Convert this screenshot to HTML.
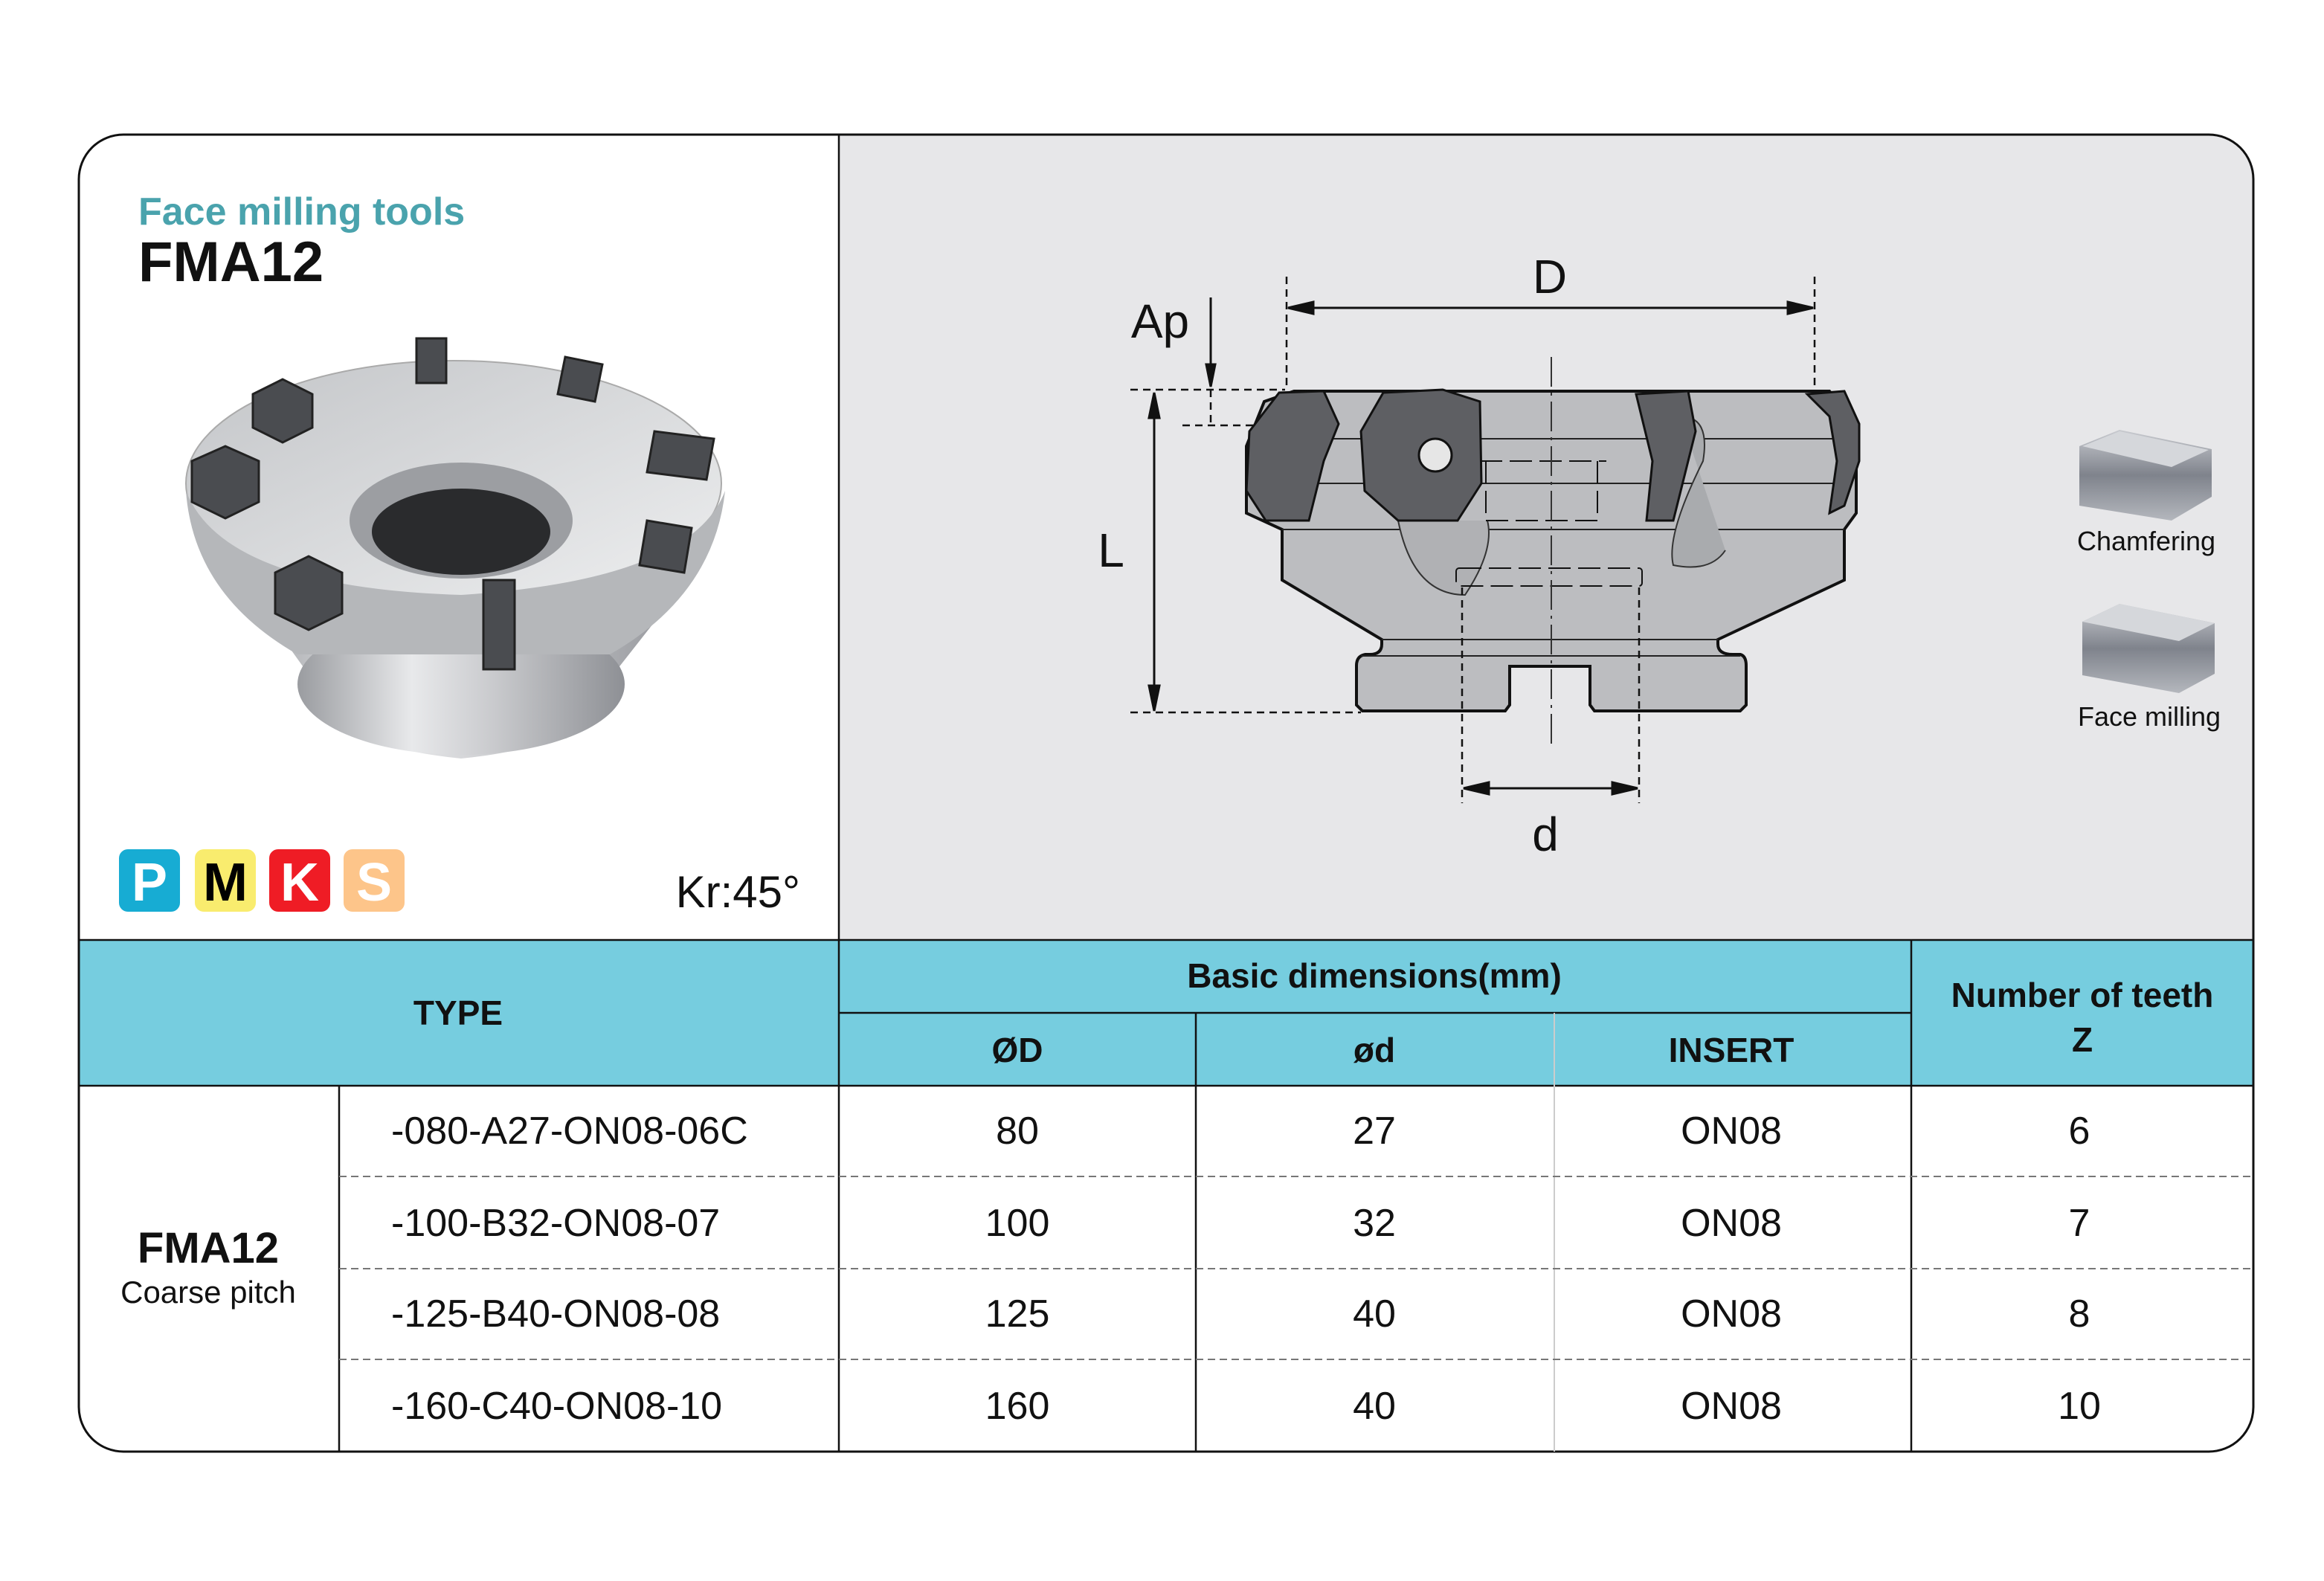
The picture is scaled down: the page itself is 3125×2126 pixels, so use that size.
<!DOCTYPE html>
<html><head><meta charset="utf-8"><style>
html,body{margin:0;padding:0;background:#fff}
svg{display:block}
text{font-family:"Liberation Sans",sans-serif}
</style></head><body>
<svg width="3125" height="2126" viewBox="0 0 3125 2126" xmlns="http://www.w3.org/2000/svg">
<defs>
<linearGradient id="bodyg" x1="0" x2="1" y1="0" y2="0">
<stop offset="0" stop-color="#9a9ca0"/><stop offset="0.35" stop-color="#e8e9eb"/><stop offset="0.6" stop-color="#c9cacd"/><stop offset="1" stop-color="#8e9095"/></linearGradient>
<linearGradient id="topg" x1="0" x2="1" y1="0" y2="1">
<stop offset="0" stop-color="#c3c5c8"/><stop offset="1" stop-color="#eeeff0"/></linearGradient>
<linearGradient id="blk" x1="0" x2="0" y1="0" y2="1">
<stop offset="0" stop-color="#c9cbd0"/><stop offset="0.5" stop-color="#7f838c"/><stop offset="1" stop-color="#b4b7bd"/></linearGradient>
</defs>
<path d="M1128 180 H2970 A60 60 0 0 1 3030 240 V1264 H1128 Z" fill="#e7e7e9"/>
<rect x="106" y="1264" width="2924" height="196" fill="#76cddf"/>
<rect x="106" y="181" width="2924" height="1771" rx="60" fill="none" stroke="#111" stroke-width="3"/>
<g stroke="#111" stroke-width="2.5">
<line x1="1128" y1="181" x2="1128" y2="1952"/>
<line x1="106" y1="1264" x2="3030" y2="1264"/>
<line x1="106" y1="1460" x2="3030" y2="1460"/>
<line x1="1128" y1="1362" x2="2570" y2="1362"/>
<line x1="2570" y1="1264" x2="2570" y2="1952"/>
<line x1="1608" y1="1362" x2="1608" y2="1952"/>
<line x1="456" y1="1460" x2="456" y2="1952"/>
</g>
<line x1="2090" y1="1362" x2="2090" y2="1952" stroke="#ccc" stroke-width="2"/>
<g stroke="#777" stroke-width="2" stroke-dasharray="10 6">
<line x1="456" y1="1582" x2="3030" y2="1582"/>
<line x1="456" y1="1706" x2="3030" y2="1706"/>
<line x1="456" y1="1828" x2="3030" y2="1828"/>
</g>
<text x="186" y="302" font-size="52" font-weight="bold" fill="#4aa3ad">Face milling tools</text>
<text x="186" y="378" font-size="76" font-weight="bold" fill="#111">FMA12</text>
<rect x="160" y="1142" width="82" height="84" rx="12" fill="#17acd3"/>
<rect x="262" y="1142" width="82" height="84" rx="12" fill="#f9ec6e"/>
<rect x="362" y="1142" width="82" height="84" rx="12" fill="#ef1c25"/>
<rect x="462" y="1142" width="82" height="84" rx="12" fill="#fdc58a"/>
<g font-size="72" font-weight="bold" text-anchor="middle">
<text x="201" y="1211" fill="#fff">P</text>
<text x="303" y="1211" fill="#000">M</text>
<text x="403" y="1211" fill="#fff">K</text>
<text x="503" y="1211" fill="#fff">S</text>
</g>
<text x="1076" y="1220" font-size="60" text-anchor="end" fill="#111">Kr:45°</text>
<g>
<path d="M310 760 L410 900 Q420 1000 620 1020 Q820 1000 830 900 L940 760 Z" fill="url(#bodyg)"/>
<ellipse cx="620" cy="920" rx="220" ry="95" fill="url(#bodyg)"/>
<ellipse cx="610" cy="650" rx="360" ry="165" fill="url(#topg)" stroke="#aaa" stroke-width="2"/>
<path d="M250 660 Q260 800 400 880 L820 880 Q960 800 975 660 Q930 780 620 800 Q300 790 250 660Z" fill="#b5b7ba"/>
<ellipse cx="620" cy="700" rx="150" ry="78" fill="#9c9ea2"/>
<ellipse cx="620" cy="715" rx="120" ry="58" fill="#2a2b2d"/>
<g fill="#4a4c50" stroke="#222" stroke-width="3">
<path d="M340 530 l40 -20 l40 20 l0 45 l-40 20 l-40 -20z"/>
<path d="M258 620 l45 -20 l45 20 l0 55 l-45 22 l-45 -22z"/>
<path d="M370 770 l45 -22 l45 22 l0 55 l-45 22 l-45 -22z"/>
<rect x="560" y="455" width="40" height="60"/>
<path d="M760 480 l50 10 l-10 50 l-50 -10z"/>
<path d="M880 580 l80 10 l-10 55 l-80 -10z"/>
<path d="M870 700 l60 10 l-10 60 l-60 -10z"/>
<rect x="650" y="780" width="42" height="120"/>
</g>
</g>
<!-- technical drawing -->
<g>
<path d="M1676 600 L1700 540 L1740 526 L2460 526 L2496 570 L2496 690 L2480 712 L2480 780 L2310 860 L2310 866 Q2310 880 2330 880 L2340 880 Q2348 882 2348 895 L2348 948 L2340 956 L2144 956 L2138 948 L2138 896 L2030 896 L2030 948 L2024 956 L1832 956 L1824 948 L1824 895 Q1824 882 1836 880 L1842 880 Q1858 880 1858 866 L1858 860 L1724 780 L1724 712 L1676 690 Z" fill="#bcbdc0" stroke="#111" stroke-width="4"/>
<line x1="1690" y1="590" x2="2490" y2="590" stroke="#222" stroke-width="2"/>
<line x1="1690" y1="650" x2="2490" y2="650" stroke="#222" stroke-width="2"/>
<line x1="1724" y1="712" x2="2480" y2="712" stroke="#222" stroke-width="2"/>
<line x1="1858" y1="860" x2="2310" y2="860" stroke="#222" stroke-width="2"/>
<line x1="1830" y1="882" x2="2340" y2="882" stroke="#222" stroke-width="2"/>
<path d="M2260 560 Q2300 560 2290 620 Q2240 720 2250 760 Q2300 770 2320 740" fill="#a9abae" stroke="#333" stroke-width="2"/>
<path d="M1880 700 Q1900 800 1970 800 Q2010 740 2000 700" fill="#b0b1b4" stroke="#333" stroke-width="2"/>
<g fill="#5e5f63" stroke="#111" stroke-width="3">
<path d="M1680 580 L1720 528 L1780 526 L1800 570 L1780 620 L1760 700 L1702 700 L1676 660 Z"/>
<path d="M1830 580 L1860 528 L1940 524 L1990 540 L1992 650 L1960 700 L1880 700 L1835 660 Z"/>
<path d="M2200 530 L2270 526 L2280 580 L2250 700 L2214 700 L2222 620 Z"/>
<path d="M2430 530 L2480 526 L2500 570 L2500 620 L2480 680 L2460 690 L2470 620 L2460 560 Z"/>
</g>
<circle cx="1930" cy="612" r="22" fill="#e6e6e6" stroke="#111" stroke-width="3"/>
<rect x="1958" y="764" width="250" height="24" rx="4" fill="none" stroke="#111" stroke-width="2" stroke-dasharray="30 10"/>
<path d="M1990 620 h170 M1998 620 v80 h150 v-80" fill="none" stroke="#111" stroke-width="2" stroke-dasharray="30 10"/>
</g>
<g stroke="#111" stroke-width="2.5" fill="none" stroke-dasharray="10 7">
<line x1="1730" y1="372" x2="1730" y2="524"/>
<line x1="2440" y1="372" x2="2440" y2="524"/>
<line x1="1520" y1="524" x2="1728" y2="524"/>
<line x1="1590" y1="572" x2="1690" y2="572"/>
<line x1="1520" y1="958" x2="1830" y2="958"/>
<line x1="1966" y1="790" x2="1966" y2="1080"/>
<line x1="2204" y1="790" x2="2204" y2="1080"/>
<line x1="1628" y1="524" x2="1628" y2="572"/>
</g>
<line x1="2086" y1="480" x2="2086" y2="1000" stroke="#333" stroke-width="2" stroke-dasharray="40 8 4 8"/>
<g stroke="#111" stroke-width="3" fill="#111">
<line x1="1745" y1="414" x2="2425" y2="414"/>
<path d="M1732 414 l34 -8 v16z"/><path d="M2438 414 l-34 -8 v16z"/>
<line x1="1628" y1="400" x2="1628" y2="505"/>
<path d="M1628 520 l-6 -30 h12z"/>
<line x1="1552" y1="545" x2="1552" y2="940"/>
<path d="M1552 528 l-7 34 h14z"/><path d="M1552 956 l-7 -34 h14z"/>
<line x1="1980" y1="1060" x2="2190" y2="1060"/>
<path d="M1968 1060 l34 -8 v16z"/><path d="M2202 1060 l-34 -8 v16z"/>
</g>
<g font-size="64" fill="#111" text-anchor="middle">
<text x="2084" y="394">D</text>
<text x="1560" y="454">Ap</text>
<text x="1494" y="762">L</text>
<text x="2078" y="1144">d</text>
</g>
<path d="M2796 600 L2850 578 L2974 604 L2974 668 L2920 700 L2796 680 Z" fill="url(#blk)"/>
<path d="M2800 600 L2850 580 L2970 605 L2920 628 Z" fill="#d5d7db"/>
<text x="2886" y="740" font-size="36" text-anchor="middle" fill="#111">Chamfering</text>
<path d="M2800 836 L2850 812 L2978 838 L2978 906 L2930 932 L2800 908 Z" fill="url(#blk)"/>
<path d="M2800 836 L2850 812 L2978 838 L2930 862 Z" fill="#d5d7db"/>
<text x="2890" y="976" font-size="36" text-anchor="middle" fill="#111">Face milling</text>
<g font-size="46" font-weight="bold" fill="#111" text-anchor="middle">
<text x="616" y="1378">TYPE</text>
<text x="1848" y="1328">Basic dimensions(mm)</text>
<text x="1368" y="1428">ØD</text>
<text x="1848" y="1428">ød</text>
<text x="2328" y="1428">INSERT</text>
<text x="2800" y="1354">Number of teeth</text>
<text x="2800" y="1414">Z</text>
</g>
<text x="280" y="1698" font-size="58" font-weight="bold" text-anchor="middle" fill="#111">FMA12</text>
<text x="280" y="1752" font-size="42" text-anchor="middle" fill="#111">Coarse pitch</text>
<g font-size="52" fill="#111">
<text x="526" y="1538">-080-A27-ON08-06C</text>
<text x="526" y="1662">-100-B32-ON08-07</text>
<text x="526" y="1784">-125-B40-ON08-08</text>
<text x="526" y="1908">-160-C40-ON08-10</text>
</g>
<g font-size="52" fill="#111" text-anchor="middle">
<text x="1368" y="1538">80</text><text x="1848" y="1538">27</text><text x="2328" y="1538">ON08</text><text x="2796" y="1538">6</text>
<text x="1368" y="1662">100</text><text x="1848" y="1662">32</text><text x="2328" y="1662">ON08</text><text x="2796" y="1662">7</text>
<text x="1368" y="1784">125</text><text x="1848" y="1784">40</text><text x="2328" y="1784">ON08</text><text x="2796" y="1784">8</text>
<text x="1368" y="1908">160</text><text x="1848" y="1908">40</text><text x="2328" y="1908">ON08</text><text x="2796" y="1908">10</text>
</g>
</svg>
</body></html>
